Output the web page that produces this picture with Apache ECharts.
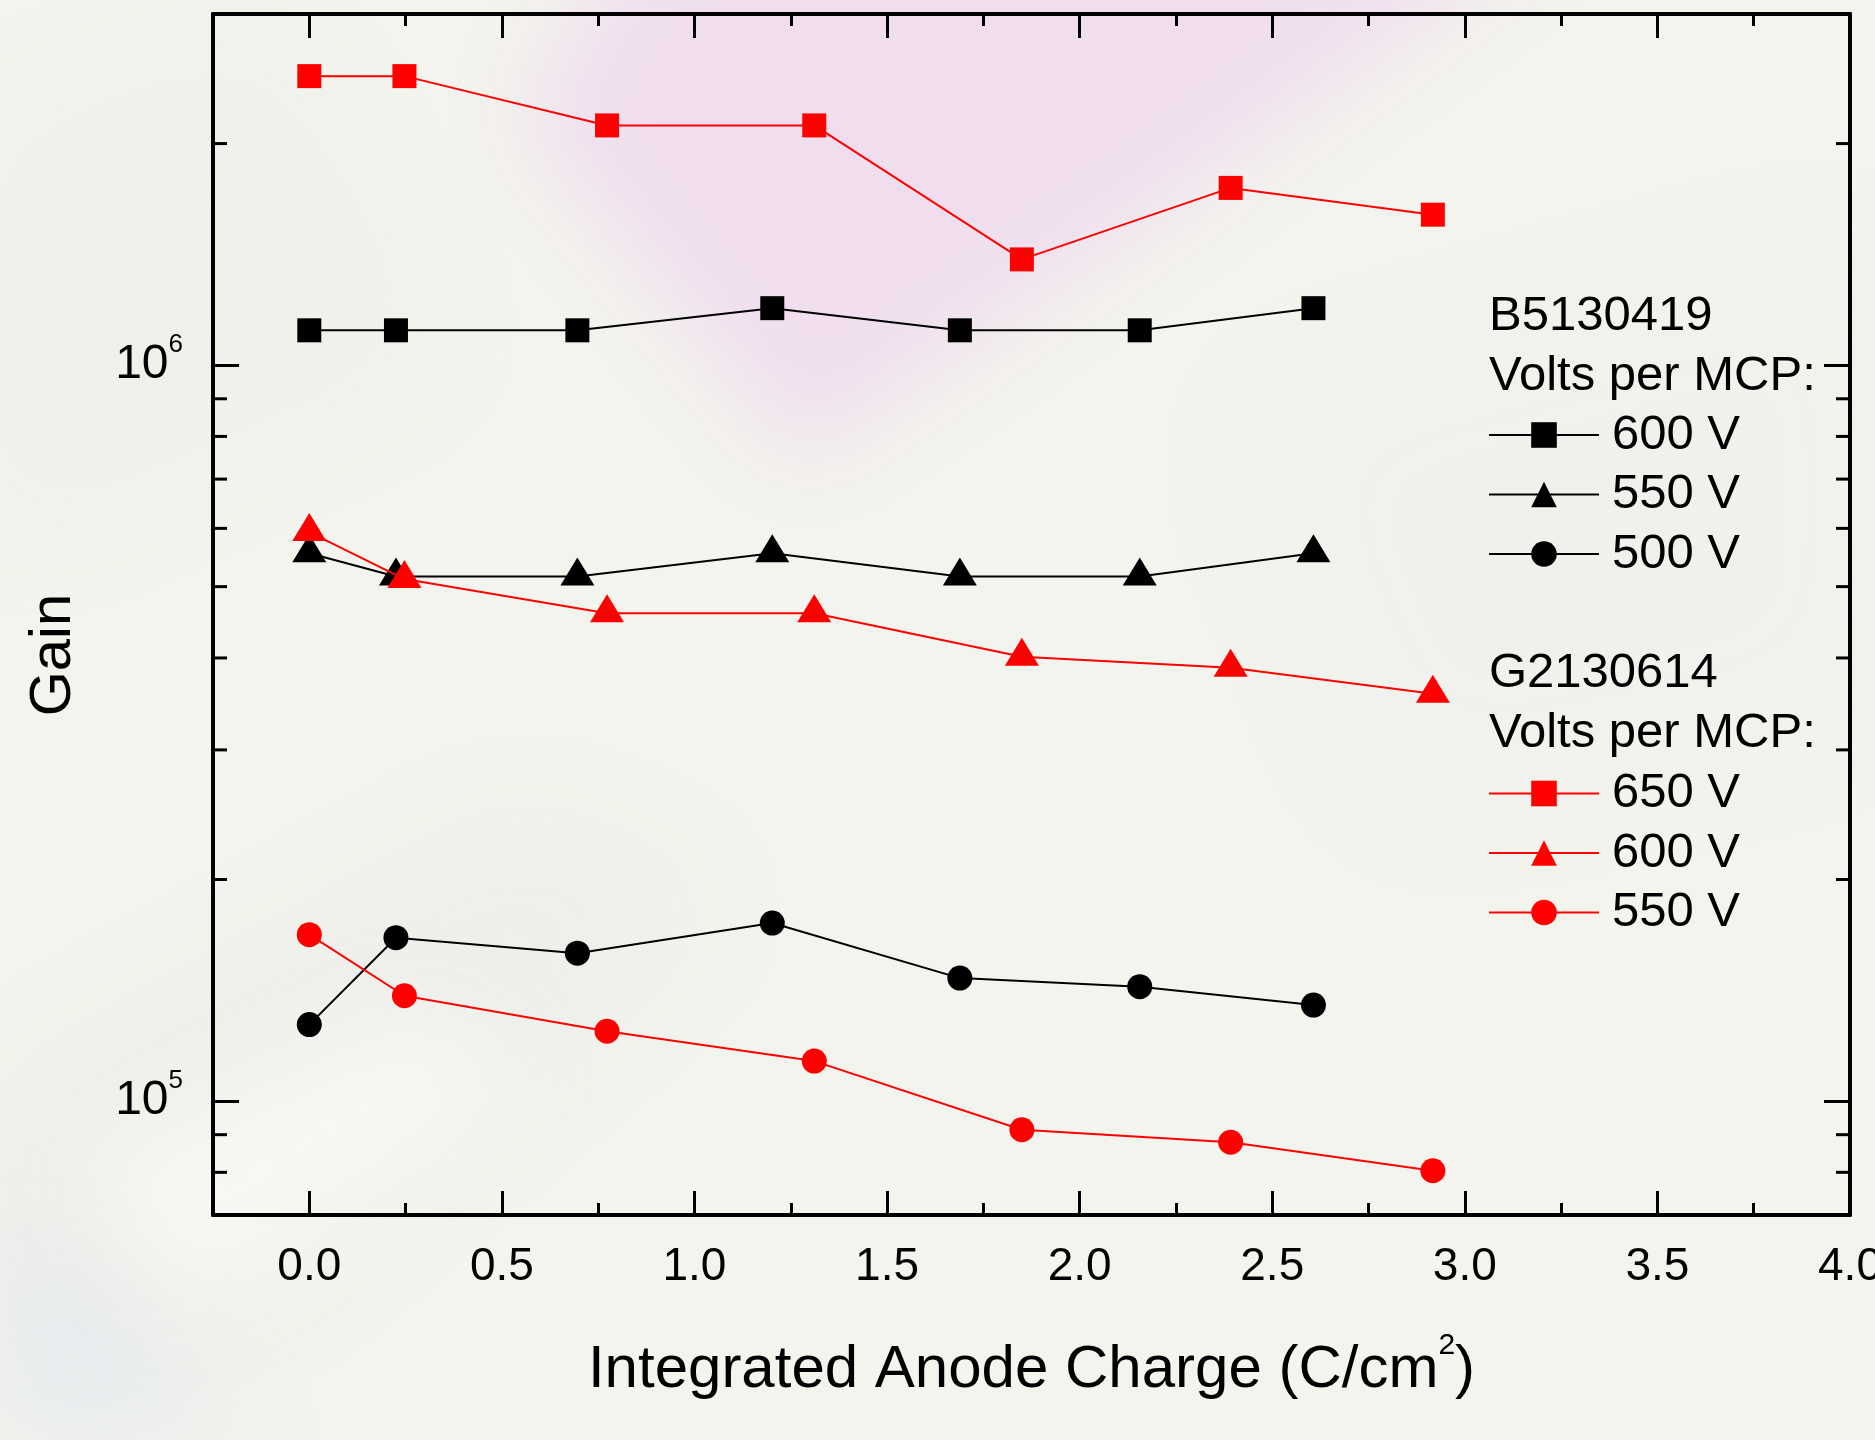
<!DOCTYPE html>
<html>
<head>
<meta charset="utf-8">
<title>Gain vs Integrated Anode Charge</title>
<script src="https://cdn.jsdelivr.net/npm/echarts@6/dist/echarts.min.js"></script>
<style>
  html, body { margin: 0; padding: 0; }
  #chart { width: 1875px; height: 1440px; }
</style>
</head>
<body>
<div id="chart"></div>
<script>
// integrated anode charge (C/cm2) at each measurement
const chargeB = [0, 0.225, 0.696, 1.202, 1.689, 2.156, 2.607]
const chargeG = [0, 0.247, 0.773, 1.311, 1.85, 2.392, 2.917]

// gain of tube B5130419 per MCP voltage
const gainB600 = [1.115e6, 1.115e6, 1.115e6, 1.195e6, 1.115e6, 1.115e6, 1.195e6]
const gainB550 = [5.55e5, 5.16e5, 5.16e5, 5.55e5, 5.16e5, 5.16e5, 5.55e5]
const gainB500 = [1.27e5, 1.667e5, 1.588e5, 1.745e5, 1.469e5, 1.43e5, 1.35e5]

// gain of tube G2130614 per MCP voltage
const gainG650 = [2.47e6, 2.47e6, 2.117e6, 2.117e6, 1.392e6, 1.741e6, 1.601e6]
const gainG600 = [5.93e5, 5.12e5, 4.6e5, 4.6e5, 4.016e5, 3.88e5, 3.576e5]
const gainG550 = [1.683e5, 1.39e5, 1.244e5, 1.133e5, 9.14e4, 8.79e4, 8.04e4]

// log axis minor ticks (2..9 x 10^n)
const yMinorTicks = [8e4, 9e4, 2e5, 3e5, 4e5, 5e5, 6e5, 7e5, 8e5, 9e5, 2e6]

const xMin = -0.25
const xMax = 4.0
const yMin = 7e4
const yMax = 3e6

const FONT = 'Liberation Sans, Arial, Helvetica, sans-serif'

const chart = echarts.init(document.getElementById('chart'))

function pairs(xs, ys) {
  return xs.map((x, i) => [x, ys[i]])
}

function makeSeries(name, xs, ys, color, symbol) {
  const s = {
    name: name,
    type: 'line',
    data: pairs(xs, ys),
    symbol: symbol,
    symbolSize: 24,
    lineStyle: { color: color, width: 2 },
    itemStyle: { color: color },
    emphasis: { disabled: true },
    z: color === '#ff0000' ? 4 : 3
  }
  if (symbol === 'triangle') {
    s.symbolSize = [34, 28]
    s.symbolOffset = [0, -5]
  } else if (symbol === 'circle') {
    s.symbolSize = 25
  }
  return s
}

// soft blurred patch for the photo-like backdrop
function blob(points, color, blur) {
  return {
    type: 'polygon',
    silent: true,
    z: -100,
    shape: { points: points.map(p => [p[0] - 4000, p[1]]) },
    style: { fill: color, shadowColor: color, shadowBlur: blur, shadowOffsetX: 4000 }
  }
}

const xAxisBase = {
  type: 'value',
  min: xMin,
  max: xMax,
  splitNumber: 8,
  axisLine: { onZero: false, lineStyle: { color: '#000', width: 4 } },
  axisTick: { inside: true, length: 24, lineStyle: { color: '#000', width: 3 } },
  minorTick: { show: true, splitNumber: 2, length: 12, lineStyle: { color: '#000', width: 3 } },
  splitLine: { show: false }
}

const yAxisBase = {
  type: 'log',
  logBase: 10,
  min: yMin,
  max: yMax,
  axisLine: { onZero: false, lineStyle: { color: '#000', width: 4 } },
  axisTick: { inside: true, length: 26, lineStyle: { color: '#000', width: 3 } },
  splitLine: { show: false }
}

const legendBase = {
  orient: 'vertical',
  left: 1488,
  itemWidth: 110,
  itemHeight: 32,
  itemGap: 10.5,
  padding: 0,
  selectedMode: false,
  textStyle: { fontSize: 49, color: '#000', fontFamily: FONT, padding: [0, 0, 0, 8] },
  formatter: name => name.split(' ').slice(1).join(' ')
}

function header(text, y) {
  return {
    type: 'text',
    x: 1489,
    y: y,
    z: 10,
    style: { text: text, fontSize: 49, fontFamily: FONT, fill: '#000', verticalAlign: 'middle' }
  }
}

chart.setOption({
  animation: false,
  backgroundColor: '#f4f4ee',
  textStyle: { fontFamily: FONT },
  grid: { left: 213, right: 25, top: 14, bottom: 225, containLabel: false, outerBoundsMode: 'none' },
  graphic: [
    blob([[640, -80], [1560, -80], [1150, 220], [800, 460], [520, 120]], 'rgba(238,214,238,0.85)', 90),
    blob([[0, 150], [260, 60], [420, 340], [0, 520]], 'rgba(236,236,234,0.8)', 120),
    blob([[0, 1100], [520, 820], [720, 900], [260, 1300], [0, 1360]], 'rgba(232,232,230,0.7)', 120),
    blob([[1250, 420], [1875, 250], [1875, 700], [1400, 800]], 'rgba(236,236,236,0.7)', 140),
    blob([[0, 1200], [250, 1440], [0, 1440]], 'rgba(226,232,240,0.8)', 100),
    blob([[60, 1180], [420, 1010], [520, 1080], [200, 1300]], 'rgba(250,250,248,0.9)', 100),
    header('B5130419', 316),
    header('Volts per MCP:', 376),
    header('G2130614', 673),
    header('Volts per MCP:', 733),
    {
      type: 'text',
      x: 54,
      y: 655,
      rotation: Math.PI / 2,
      z: 10,
      style: { text: 'Gain', fontSize: 58, fontFamily: FONT, fill: '#000', align: 'center', verticalAlign: 'middle' }
    }
  ],
  legend: [
    Object.assign({}, legendBase, {
      top: 410.5,
      data: ['B5130419 600 V', 'B5130419 550 V', 'B5130419 500 V']
    }),
    Object.assign({}, legendBase, {
      top: 769,
      data: ['G2130614 650 V', 'G2130614 600 V', 'G2130614 550 V']
    })
  ],
  xAxis: [
    Object.assign({}, xAxisBase, {
      position: 'bottom',
      axisLabel: {
        fontSize: 46,
        color: '#000',
        margin: 29,
        showMinLabel: false,
        formatter: v => v.toFixed(1)
      },
      name: '{a|Integrated Anode Charge (C/cm}{b|2}{a|)}',
      nameLocation: 'middle',
      nameGap: 116,
      nameTextStyle: {
        rich: {
          a: { fontSize: 60, lineHeight: 60, color: '#000', fontFamily: FONT },
          b: { fontSize: 30, padding: [0, 0, 48, 0], color: '#000', fontFamily: FONT }
        }
      }
    }),
    Object.assign({}, xAxisBase, {
      position: 'top',
      axisLabel: { show: false }
    })
  ],
  yAxis: [
    Object.assign({}, yAxisBase, {
      position: 'left',
      axisLabel: {
        margin: 30,
        showMinLabel: false,
        showMaxLabel: false,
        formatter: v => {
          const e = Math.log10(v)
          if (Math.abs(e - Math.round(e)) > 1e-6) {
            return ''
          }
          return '{a|10}{b|' + Math.round(e) + '}'
        },
        rich: {
          a: { fontSize: 48, lineHeight: 48, color: '#000', fontFamily: FONT },
          b: { fontSize: 26, padding: [0, 0, 40, 0], color: '#000', fontFamily: FONT }
        }
      }
    }),
    Object.assign({}, yAxisBase, {
      position: 'right',
      axisLabel: { show: false }
    })
  ],
  series: [
    makeSeries('B5130419 600 V', chargeB, gainB600, '#000000', 'rect'),
    makeSeries('B5130419 550 V', chargeB, gainB550, '#000000', 'triangle'),
    makeSeries('B5130419 500 V', chargeB, gainB500, '#000000', 'circle'),
    makeSeries('G2130614 650 V', chargeG, gainG650, '#ff0000', 'rect'),
    makeSeries('G2130614 600 V', chargeG, gainG600, '#ff0000', 'triangle'),
    makeSeries('G2130614 550 V', chargeG, gainG550, '#ff0000', 'circle'),
    {
      // minor ticks of the log axes, left and right frame
      type: 'custom',
      silent: true,
      z: 6,
      data: yMinorTicks.map(v => [xMin, v]),
      renderItem(params, api) {
        const left = api.coord([xMin, api.value(1)])
        const right = api.coord([xMax, api.value(1)])
        return {
          type: 'group',
          children: [
            { type: 'line', shape: { x1: left[0], y1: left[1], x2: left[0] + 14, y2: left[1] }, style: { stroke: '#000', lineWidth: 3 } },
            { type: 'line', shape: { x1: right[0], y1: right[1], x2: right[0] - 14, y2: right[1] }, style: { stroke: '#000', lineWidth: 3 } }
          ]
        }
      }
    }
  ]
})
</script>
</body>
</html>
